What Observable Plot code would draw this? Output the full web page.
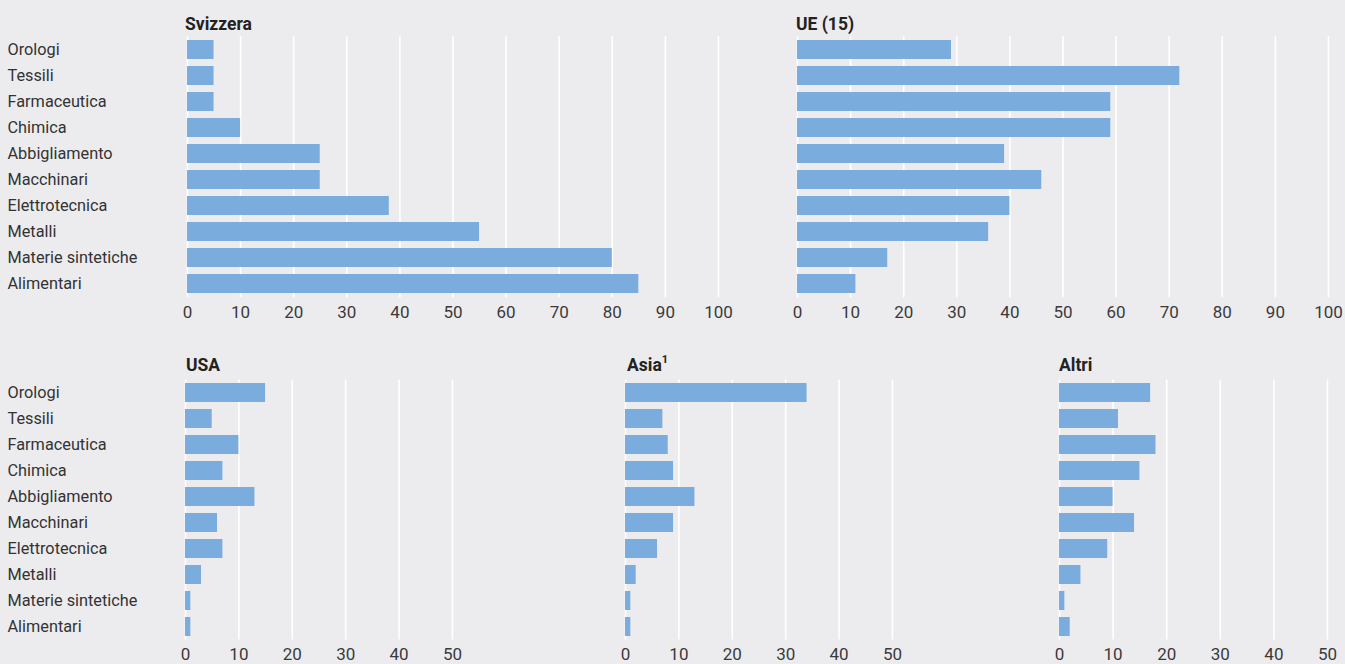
<!DOCTYPE html>
<html>
<head>
<meta charset="utf-8">
<script src="https://cdn.jsdelivr.net/npm/d3@7"></script>
<script src="https://cdn.jsdelivr.net/npm/@observablehq/plot@0.6"></script>
<style>
  html, body { margin: 0; padding: 0; background: #ececef; }
  #root { position: relative; width: 1345px; height: 664px; overflow: hidden; background: #ececef; font-family: Roboto, "Liberation Sans", sans-serif; }
  .panel { position: absolute; }
  .panel svg { overflow: visible; display: block; }
  .title { position: absolute; font-weight: bold; font-size: 17.5px; color: #222; line-height: 1; white-space: nowrap; }
  .title sup { font-size: 11px; position: relative; top: -1px; vertical-align: super; line-height: 0; }
</style>
</head>
<body>
<div id="root"></div>
<script>
// ---- data ----
const categories = ["Orologi","Tessili","Farmaceutica","Chimica","Abbigliamento","Macchinari","Elettrotecnica","Metalli","Materie sintetiche","Alimentari"];
const svizzera = [5, 5, 5, 10, 25, 25, 38, 55, 80, 85];
const ue15     = [29, 72, 59, 59, 39, 46, 40, 36, 17, 11];
const usa      = [15, 5, 10, 7, 13, 6, 7, 3, 1, 1];
const asia     = [34, 7, 8, 9, 13, 9, 6, 2, 1, 1];
const altri    = [17, 11, 18, 15, 10, 14, 9, 4, 1, 2];
const titles   = ["Svizzera", "UE (15)", "USA", "Asia", "Altri"];
const ticksTop    = [0,10,20,30,40,50,60,70,80,90,100];
const ticksBottom = [0,10,20,30,40,50];

const root = document.getElementById("root");
const barColor = "#7aaddd";

function panel({values, title, sup, left, top, width, height, mL, mR, mT, mB, domain, ticks, showY, titleX, titleY}) {
  const data = categories.map((c, i) => ({cat: c, v: values[i]}));
  const marks = [
    Plot.gridX(ticks, {stroke: "#ffffff", strokeOpacity: 1, strokeWidth: 1.6}),
    Plot.barX(data, {x: "v", y: "cat", fill: barColor}),
    Plot.axisX({ticks, label: null, tickSize: 0, tickPadding: 8, fontSize: 17, fill: "#3a3a3a", tickFormat: d => String(d)})
  ];
  if (showY) {
    marks.push(Plot.axisY({label: null, tickSize: 0, tickPadding: mL - 7, textAnchor: "start", fontSize: 16.3, fill: "#333"}));
  }
  const chart = Plot.plot({
    width, height,
    marginLeft: mL, marginRight: mR, marginTop: mT, marginBottom: mB,
    style: {background: "transparent", fontFamily: "Roboto, 'Liberation Sans', sans-serif", overflow: "visible"},
    x: {domain, axis: null, label: null},
    y: {domain: categories, paddingInner: 0.28, paddingOuter: 0.14, axis: null, label: null},
    marks
  });
  const div = document.createElement("div");
  div.className = "panel";
  div.style.left = left + "px";
  div.style.top = top + "px";
  div.appendChild(chart);
  root.appendChild(div);

  const t = document.createElement("div");
  t.className = "title";
  t.style.left = titleX + "px";
  t.style.top = titleY + "px";
  t.textContent = title;
  if (sup) {
    const s = document.createElement("sup");
    s.textContent = sup;
    t.appendChild(s);
  }
  root.appendChild(t);
}

// top row
panel({values: svizzera, title: titles[0], left: 0, top: 0, width: 740, height: 330,
  mL: 187, mR: 22, mT: 36.3, mB: 32.7, domain: [0,100], ticks: ticksTop, showY: true, titleX: 185, titleY: 16});
panel({values: ue15, title: titles[1], left: 740, top: 0, width: 605, height: 330,
  mL: 57, mR: 17, mT: 36.3, mB: 32.7, domain: [0,100], ticks: ticksTop, showY: false, titleX: 796, titleY: 16});
// bottom row
panel({values: usa, title: titles[2], left: 0, top: 340, width: 600, height: 324,
  mL: 185, mR: 148, mT: 39.5, mB: 24.5, domain: [0,50], ticks: ticksBottom, showY: true, titleX: 186, titleY: 357});
panel({values: asia, title: titles[3], sup: "1", left: 600, top: 340, width: 400, height: 324,
  mL: 25, mR: 108, mT: 39.5, mB: 24.5, domain: [0,50], ticks: ticksBottom, showY: false, titleX: 627, titleY: 357});
panel({values: altri, title: titles[4], left: 1000, top: 340, width: 345, height: 324,
  mL: 59, mR: 18, mT: 39.5, mB: 24.5, domain: [0,50], ticks: ticksBottom, showY: false, titleX: 1059, titleY: 357});
</script>
</body>
</html>
